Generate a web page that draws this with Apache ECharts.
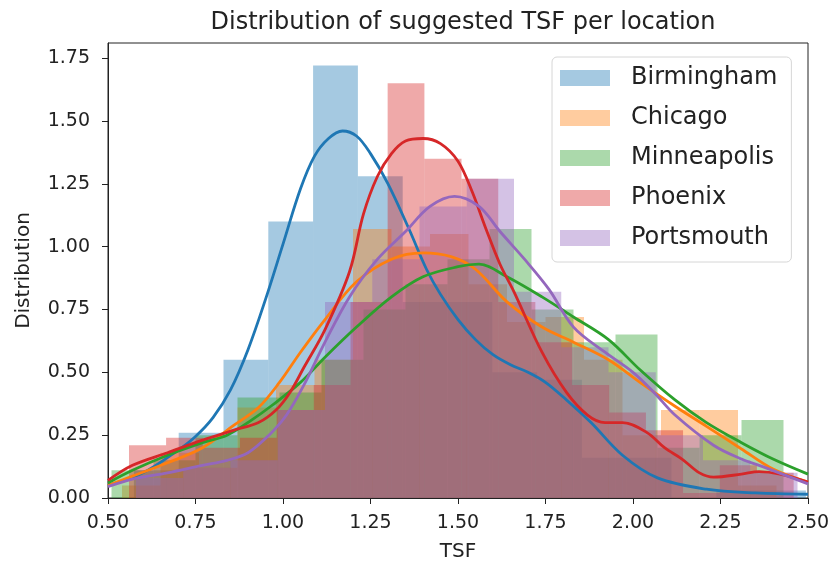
<!DOCTYPE html>
<html>
<head>
<meta charset="utf-8">
<script src="https://cdn.jsdelivr.net/npm/echarts@6/dist/echarts.min.js"></script>
<style>
  html, body { margin: 0; padding: 0; background: #fff; }
  #chart { width: 835px; height: 567px; }
</style>
</head>
<body>
<div id="chart"></div>
<script>
// histogram bins (edges + density heights)
const birminghamEdges = [0.574, 0.702, 0.830, 0.958, 1.086, 1.214, 1.342, 1.470, 1.598, 1.726, 1.854, 1.982, 2.110, 2.238, 2.366, 2.494];
const birminghamHist = [0.11, 0.26, 0.55, 1.10, 1.72, 1.28, 0.78, 0.78, 0.50, 0.47, 0.16, 0.16, 0.0, 0.03, 0.03];

const chicagoEdges = [0.540, 0.650, 0.760, 0.870, 0.980, 1.090, 1.200, 1.310, 1.420, 1.530, 1.640, 1.750, 1.860, 1.970, 2.080, 2.190, 2.300, 2.410];
const chicagoHist = [0.05, 0.18, 0.12, 0.36, 0.45, 0.55, 1.07, 1.00, 1.05, 0.85, 0.70, 0.72, 0.55, 0.25, 0.35, 0.35, 0.05];

const minneapolisEdges = [0.510, 0.630, 0.750, 0.870, 0.990, 1.110, 1.230, 1.350, 1.470, 1.590, 1.710, 1.830, 1.950, 2.070, 2.190, 2.310, 2.430];
const minneapolisHist = [0.11, 0.15, 0.25, 0.40, 0.42, 0.55, 0.75, 0.85, 0.95, 1.07, 0.75, 0.62, 0.65, 0.20, 0.25, 0.31];

const phoenixEdges = [0.560, 0.666, 0.771, 0.877, 0.982, 1.088, 1.193, 1.299, 1.404, 1.510, 1.615, 1.721, 1.826, 1.932, 2.037, 2.143, 2.248, 2.354, 2.459];
const phoenixHist = [0.21, 0.24, 0.20, 0.24, 0.35, 0.45, 0.78, 1.65, 1.35, 1.27, 0.78, 0.62, 0.45, 0.34, 0.27, 0.02, 0.13, 0.10];

const portsmouthEdges = [0.580, 0.715, 0.850, 0.985, 1.120, 1.255, 1.390, 1.525, 1.660, 1.795, 1.930, 2.065, 2.200, 2.335, 2.470];
const portsmouthHist = [0.08, 0.12, 0.15, 0.35, 0.78, 0.95, 1.16, 1.27, 0.82, 0.60, 0.50, 0.25, 0.15, 0.10];

// density curves [TSF, density]
const birminghamKde = [[0.50,0.05],[0.60,0.10],[0.70,0.19],[0.75,0.245],[0.80,0.32],[0.85,0.43],[0.90,0.59],[0.95,0.79],[1.00,1.01],[1.05,1.23],[1.09,1.36],[1.13,1.43],[1.17,1.46],[1.21,1.44],[1.25,1.37],[1.30,1.25],[1.36,1.07],[1.41,0.91],[1.45,0.81],[1.50,0.71],[1.55,0.63],[1.60,0.57],[1.65,0.53],[1.70,0.50],[1.75,0.46],[1.81,0.39],[1.88,0.30],[1.97,0.17],[2.07,0.08],[2.21,0.035],[2.35,0.02],[2.50,0.015]];
const chicagoKde = [[0.50,0.05],[0.57,0.087],[0.67,0.14],[0.77,0.20],[0.86,0.29],[0.93,0.36],[0.99,0.46],[1.05,0.58],[1.12,0.71],[1.21,0.86],[1.31,0.95],[1.40,0.975],[1.48,0.96],[1.55,0.91],[1.64,0.78],[1.74,0.68],[1.83,0.62],[1.93,0.55],[2.02,0.46],[2.12,0.365],[2.21,0.285],[2.31,0.195],[2.40,0.115],[2.50,0.063]];
const minneapolisKde = [[0.50,0.06],[0.57,0.11],[0.67,0.17],[0.77,0.22],[0.84,0.25],[0.91,0.31],[0.97,0.37],[1.05,0.46],[1.12,0.56],[1.21,0.68],[1.31,0.80],[1.40,0.88],[1.50,0.92],[1.56,0.93],[1.64,0.88],[1.74,0.80],[1.83,0.72],[1.93,0.63],[2.02,0.51],[2.12,0.39],[2.21,0.30],[2.31,0.22],[2.40,0.155],[2.50,0.095]];
const phoenixKde = [[0.50,0.07],[0.57,0.13],[0.67,0.18],[0.77,0.23],[0.86,0.27],[0.93,0.30],[0.98,0.35],[1.02,0.42],[1.06,0.52],[1.12,0.67],[1.19,0.90],[1.23,1.13],[1.27,1.28],[1.31,1.37],[1.35,1.42],[1.40,1.43],[1.45,1.41],[1.50,1.34],[1.54,1.22],[1.58,1.07],[1.62,0.93],[1.66,0.82],[1.74,0.58],[1.81,0.42],[1.87,0.33],[1.92,0.30],[1.97,0.30],[2.04,0.26],[2.09,0.20],[2.14,0.155],[2.19,0.10],[2.23,0.083],[2.31,0.095],[2.36,0.105],[2.42,0.095],[2.50,0.063]];
const portsmouthKde = [[0.50,0.045],[0.57,0.075],[0.67,0.10],[0.77,0.13],[0.84,0.15],[0.90,0.18],[0.96,0.25],[1.01,0.33],[1.06,0.45],[1.12,0.62],[1.19,0.80],[1.27,0.95],[1.35,1.06],[1.42,1.16],[1.49,1.20],[1.56,1.16],[1.62,1.06],[1.69,0.95],[1.76,0.83],[1.83,0.68],[1.92,0.58],[2.00,0.50],[2.06,0.42],[2.12,0.33],[2.23,0.21],[2.31,0.155],[2.38,0.12],[2.50,0.056]];

const yTicks = [0, 0.25, 0.5, 0.75, 1.0, 1.25, 1.5, 1.75];

const locations = ['Birmingham', 'Chicago', 'Minneapolis', 'Phoenix', 'Portsmouth'];
const lineColors = ['#1f77b4', '#ff7f0e', '#2ca02c', '#d62728', '#9467bd'];
const barColors = ['rgba(31,119,180,0.4)', 'rgba(255,127,14,0.4)', 'rgba(44,160,44,0.4)', 'rgba(214,39,40,0.4)', 'rgba(148,103,189,0.4)'];
const edges = [birminghamEdges, chicagoEdges, minneapolisEdges, phoenixEdges, portsmouthEdges];
const hists = [birminghamHist, chicagoHist, minneapolisHist, phoenixHist, portsmouthHist];
const kdes = [birminghamKde, chicagoKde, minneapolisKde, phoenixKde, portsmouthKde];

const FONT = 'DejaVu Sans';

function histSeries(i) {
    const e = edges[i];
    const data = hists[i].map((h, k) => [e[k], e[k + 1], h]);
    return {
        name: locations[i],
        type: 'custom',
        z: 1,
        encode: { x: [0, 1], y: 2 },
        itemStyle: { color: barColors[i] },
        data: data,
        renderItem: function (params, api) {
            const p0 = api.coord([api.value(0), api.value(2)]);
            const p1 = api.coord([api.value(1), 0]);
            return {
                type: 'rect',
                shape: { x: p0[0], y: p0[1], width: p1[0] - p0[0], height: p1[1] - p0[1] },
                style: { fill: barColors[i] }
            };
        }
    };
}

function kdeSeries(i) {
    return {
        name: locations[i] + ' kde',
        type: 'line',
        z: 3,
        smooth: 0.35,
        showSymbol: false,
        lineStyle: { color: lineColors[i], width: 2.8 },
        itemStyle: { color: lineColors[i] },
        data: kdes[i]
    };
}

const series = [];
for (let i = 0; i < locations.length; i++) series.push(histSeries(i));
for (let i = 0; i < locations.length; i++) series.push(kdeSeries(i));

const option = {
    animation: false,
    backgroundColor: '#fff',
    title: {
        text: 'Distribution of suggested TSF per location',
        left: 458,
        top: 6,
        textAlign: 'center',
        textStyle: { fontFamily: FONT, fontSize: 24, fontWeight: 'normal', color: '#222' }
    },
    legend: {
        orient: 'vertical',
        left: 552,
        top: 57,
        padding: [9, 14, 12, 8],
        itemWidth: 50,
        itemHeight: 16,
        itemGap: 16,
        icon: 'rect',
        selectedMode: false,
        backgroundColor: 'rgba(255,255,255,0.85)',
        borderColor: '#d6d6d6',
        borderWidth: 1,
        borderRadius: 5,
        textStyle: { fontFamily: FONT, fontSize: 24, lineHeight: 24, color: '#222', padding: [0, 0, 0, 16] },
        data: locations.map((n, i) => ({ name: n, itemStyle: { color: barColors[i] } }))
    },
    grid: {
        left: 108, right: 27, top: 43, bottom: 68,
        show: true, borderColor: '#222', borderWidth: 1, backgroundColor: 'transparent'
    },
    xAxis: {
        type: 'value',
        min: 0.5, max: 2.5, interval: 0.25,
        name: 'TSF',
        nameLocation: 'middle',
        nameGap: 44,
        nameTextStyle: { fontFamily: FONT, fontSize: 20, color: '#222' },
        axisLine: { show: true, onZero: false, lineStyle: { color: '#222', width: 1 } },
        axisTick: { show: true, length: 6, lineStyle: { color: '#222' } },
        axisLabel: { fontFamily: FONT, fontSize: 19, color: '#222', margin: 16, formatter: v => v.toFixed(2) },
        splitLine: { show: false }
    },
    yAxis: {
        type: 'value',
        min: 0, max: 1.81,
        name: 'Distribution',
        nameLocation: 'middle',
        nameGap: 74,
        nameTextStyle: { fontFamily: FONT, fontSize: 20, color: '#222' },
        axisLine: { show: true, lineStyle: { color: '#222', width: 1 } },
        axisTick: { show: true, length: 6, lineStyle: { color: '#222' }, customValues: yTicks },
        axisLabel: { fontFamily: FONT, fontSize: 19, color: '#222', margin: 18, customValues: yTicks, formatter: v => v.toFixed(2) },
        splitLine: { show: false }
    },
    series: series
};

const chart = echarts.init(document.getElementById('chart'));
chart.setOption(option);
</script>
</body>
</html>
